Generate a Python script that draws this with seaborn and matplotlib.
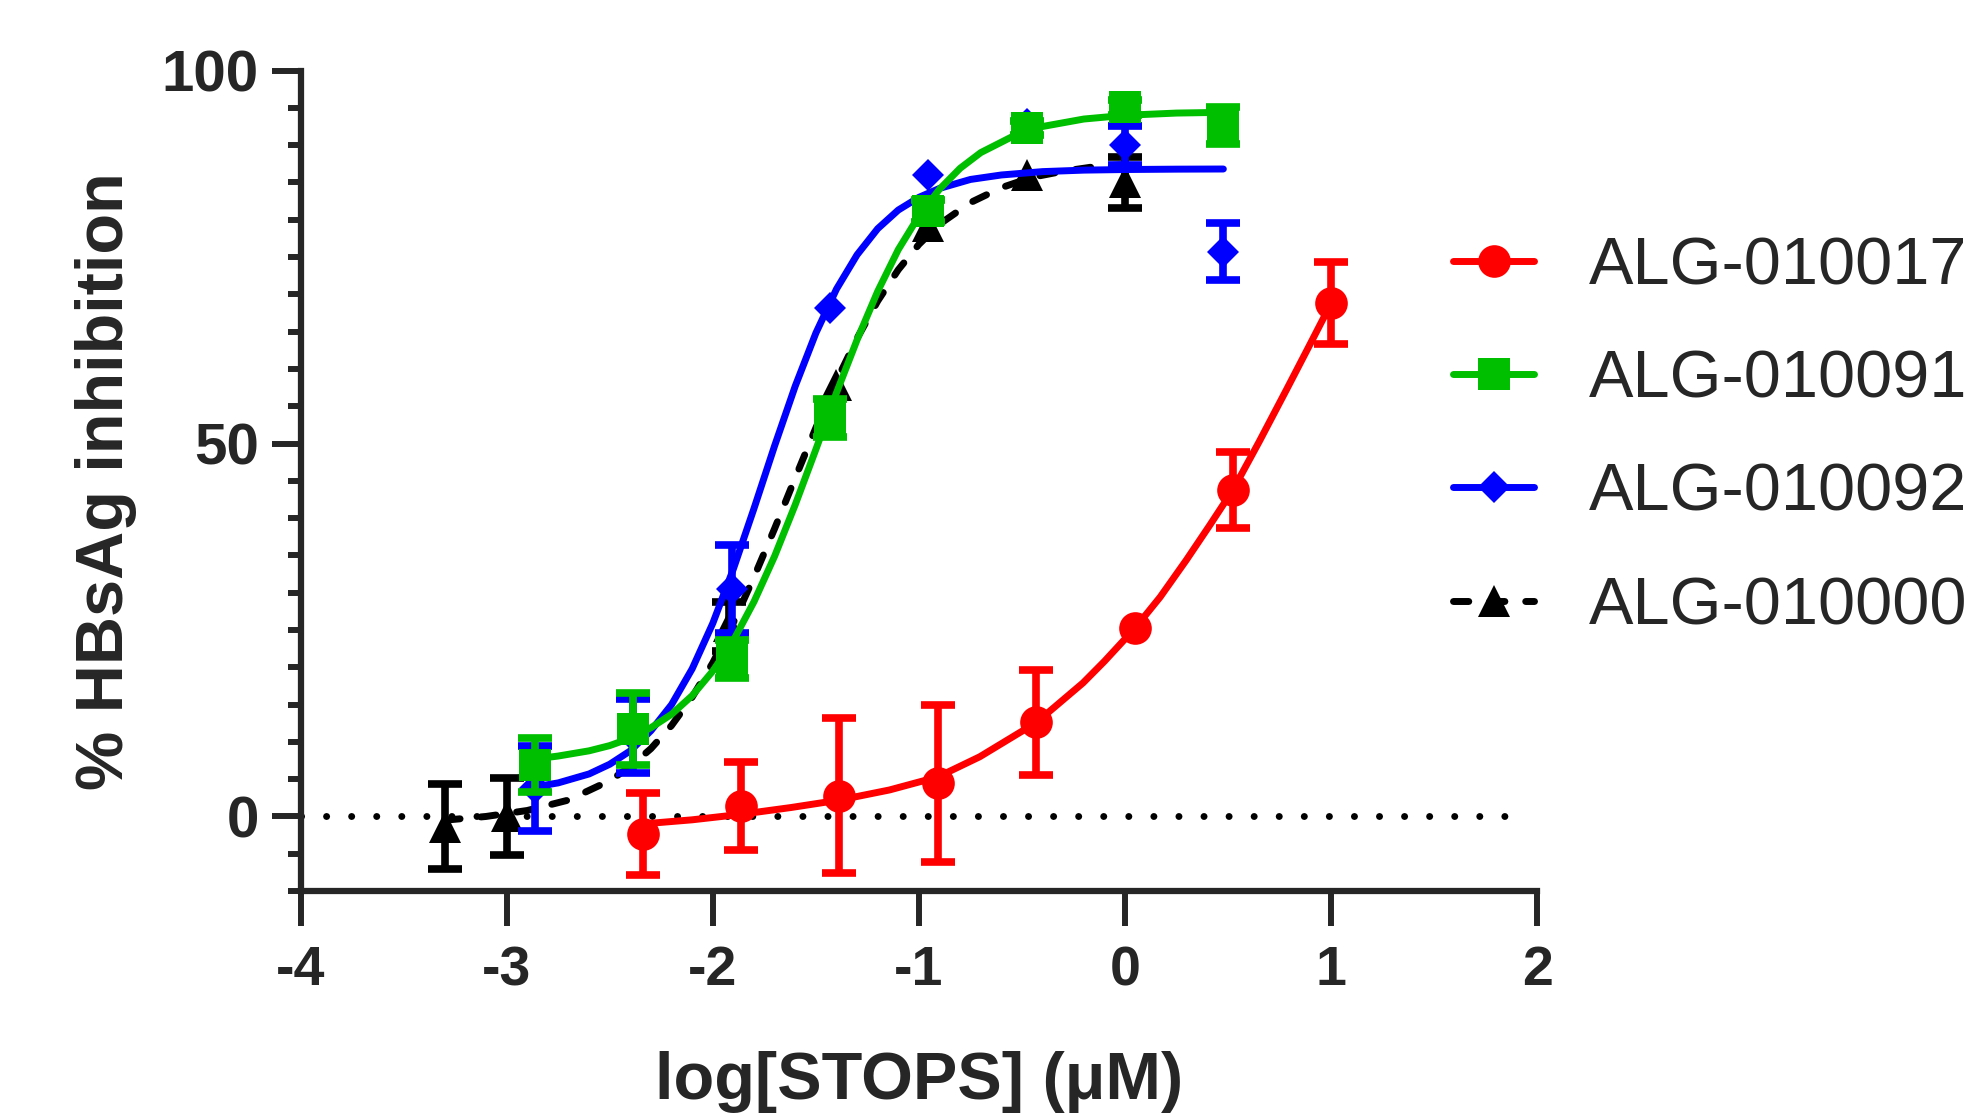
import matplotlib
matplotlib.use("Agg")
import numpy as np
import matplotlib.pyplot as plt
import matplotlib.ticker as mticker
from matplotlib.lines import Line2D
import seaborn as sns

# data points (log concentration, mean % inhibition, error; 0 = bar hidden by marker)
red_x = [-2.340, -1.863, -1.386, -0.908, -0.431, 0.046, 0.523, 1.000]
red_y = [-2.3, 1.4, 2.8, 4.45, 12.6, 25.2, 43.8, 68.8]
red_err = [5.5, 5.9, 10.4, 10.5, 7.0, 0, 5.1, 5.5]

green_x = [-2.863, -2.386, -1.909, -1.431, -0.954, -0.477, 0.000, 0.477]
green_y = [6.9, 11.7, 21.1, 53.4, 81.2, 92.3, 95.1, 92.6]
green_err = [3.6, 4.8, 2.5, 2.5, 1.5, 1.0, 1.0, 2.5]

blue_x = [-2.863, -2.386, -1.909, -1.431, -0.954, -0.477, 0.000, 0.477]
blue_y = [3.8, 10.8, 30.5, 68.1, 86.0, 92.9, 90.0, 75.7]
blue_err = [5.7, 5.0, 5.9, 0, 0, 0, 2.6, 3.8]

black_x = [-3.30, -3.00, -1.92, -1.40, -0.954, -0.477, 0.000]
black_y = [-1.4, 0.0, 25.5, 57.8, 79.1, 86.0, 85.0]
black_err = [5.7, 5.15, 3.3, 0, 0, 0, 3.4]

# fitted curves
red_fit_x = [-2.34, -2.10, -1.86, -1.62, -1.385, -1.143, -0.908, -0.705, -0.43,
             -0.204, -0.10, 0.047, 0.17, 0.298, 0.41, 0.524, 0.65, 0.783, 0.89, 1.0]
red_fit_y = [-1.0, -0.45, 0.3, 1.2, 2.2, 3.55, 5.3, 8.0, 12.6,
             17.9, 20.8, 25.2, 29.4, 34.4, 39.0, 43.8, 50.2, 57.2, 62.9, 68.8]

green_fit_x = [-2.863, -2.75, -2.60, -2.50, -2.40, -2.30, -2.20, -2.10, -2.00, -1.90,
               -1.80, -1.70, -1.60, -1.50, -1.40, -1.30, -1.20, -1.10, -1.00, -0.90,
               -0.80, -0.70, -0.55, -0.40, -0.20, 0.00, 0.25, 0.477]
green_fit_y = [7.7, 8.1, 8.8, 9.5, 10.5, 11.9, 13.7, 16.2, 19.5, 23.6,
               28.8, 34.9, 41.8, 49.2, 56.8, 63.9, 70.4, 76.0, 80.5, 84.1,
               86.9, 89.0, 91.1, 92.5, 93.5, 94.0, 94.3, 94.4]

blue_fit_x = [-2.90, -2.75, -2.60, -2.50, -2.40, -2.30, -2.20, -2.10, -2.00, -1.90,
              -1.80, -1.70, -1.60, -1.50, -1.40, -1.30, -1.20, -1.10, -1.00, -0.90,
              -0.75, -0.60, -0.40, -0.20, 0.00, 0.25, 0.477]
blue_fit_y = [3.8, 4.5, 5.7, 7.0, 8.8, 11.5, 15.0, 19.8, 25.9, 33.2,
              41.3, 49.7, 57.7, 64.8, 70.7, 75.3, 78.8, 81.3, 83.0, 84.2,
              85.4, 86.0, 86.45, 86.65, 86.73, 86.78, 86.8]

black_fit_x = [-3.30, -3.10, -2.90, -2.70, -2.50, -2.40, -2.30, -2.20, -2.10, -2.00,
               -1.90, -1.80, -1.70, -1.60, -1.50, -1.40, -1.30, -1.20, -1.10, -1.00,
               -0.90, -0.75, -0.60, -0.45, -0.30, -0.15, 0.00]
black_fit_y = [-0.5, 0.0, 0.8, 2.2, 4.8, 6.7, 9.1, 12.2, 16.0, 20.6,
               26.0, 32.1, 38.6, 45.4, 52.1, 58.4, 64.1, 69.1, 73.3, 76.7,
               79.4, 82.3, 84.3, 85.7, 86.5, 87.1, 87.4]

labels = ["ALG-010017", "ALG-010091", "ALG-010092", "ALG-010000"]
x_ticks = [-4, -3, -2, -1, 0, 1, 2]
y_ticks = [0, 50, 100]

sns.set_style("ticks")
plt.rcParams["font.family"] = ["Liberation Sans", "DejaVu Sans"]

RED, GREEN, BLUE, BLACK = "#FF0000", "#00BF00", "#0000FF", "#000000"
LW = 5.0
DASH = (0, (2.2, 3.0))

fig = plt.figure(figsize=(19.8, 11.18), dpi=100)
ax = fig.add_axes([0.1518, 0.2030, 0.6246, 0.7339])

ax.axhline(0, color="black", lw=5, linestyle=(0, (0.01, 3.6)),
           dash_capstyle="round", xmax=0.99, zorder=1)

series = [
    # x, y, err, fit_x, fit_y, color, marker, ms, linestyle, zorder
    (black_x, black_y, black_err, black_fit_x, black_fit_y, BLACK, "^", 23, DASH, 2),
    (blue_x, blue_y, blue_err, blue_fit_x, blue_fit_y, BLUE, "D", 16.5, "-", 3),
    (green_x, green_y, green_err, green_fit_x, green_fit_y, GREEN, "s", 23, "-", 4),
    (red_x, red_y, red_err, red_fit_x, red_fit_y, RED, "o", 23.5, "-", 5),
]

for x, y, err, fx, fy, color, marker, ms, ls, z in series:
    x, y, err = np.array(x), np.array(y), np.array(err, dtype=float)
    shown = err > 0
    ax.errorbar(x[shown], y[shown], yerr=err[shown], fmt="none", ecolor=color,
                elinewidth=5.5, capsize=12, capthick=5.5, zorder=z)
    ax.plot(x, y, marker, color=color, ms=ms, mew=0, zorder=z)
    sns.lineplot(x=fx, y=fy, ax=ax, color=color, lw=LW, sort=False,
                 estimator=None, linestyle=ls, dash_capstyle="round", zorder=z)

ax.set_xlim(-4, 2)
ax.set_ylim(-10, 100)
ax.set_xticks(x_ticks)
ax.set_xticklabels([str(t) for t in x_ticks])
ax.set_yticks(y_ticks)
ax.yaxis.set_minor_locator(mticker.MultipleLocator(5))

for side in ["top", "right"]:
    ax.spines[side].set_visible(False)
for side in ["left", "bottom"]:
    ax.spines[side].set_linewidth(4.5)

ax.tick_params(axis="x", which="major", length=25, width=4.3, pad=14,
               labelsize=40, direction="out")
ax.tick_params(axis="y", which="major", length=21, width=4.3, pad=9,
               labelsize=42, direction="out")
ax.tick_params(axis="y", which="minor", length=9.5, width=4.3, direction="out")
for lab in ax.get_xticklabels() + ax.get_yticklabels():
    lab.set_fontweight("bold")

ax.set_xlabel("log[STOPS] (μM)", fontsize=48, fontweight="bold")
ax.set_ylabel("% HBsAg inhibition", fontsize=48, fontweight="bold")
ax.xaxis.set_label_coords(0.5, -0.195)
ax.yaxis.set_label_coords(-0.132, 0.5)

handles = [
    Line2D([], [], color=RED, lw=LW, marker="o", ms=23.5, mew=0),
    Line2D([], [], color=GREEN, lw=LW, marker="s", ms=23, mew=0),
    Line2D([], [], color=BLUE, lw=LW, marker="D", ms=16.5, mew=0),
    Line2D([], [], color=BLACK, lw=LW, marker="^", ms=23, mew=0,
           linestyle=DASH, dash_capstyle="round"),
]
fig.legend(handles=handles, labels=labels, loc="center left",
           bbox_to_anchor=(0.717, 0.609), frameon=False, borderpad=0,
           fontsize=48, handlelength=1.22, handletextpad=0.82,
           labelspacing=0.77)

fig.savefig("out.png", dpi=100)
